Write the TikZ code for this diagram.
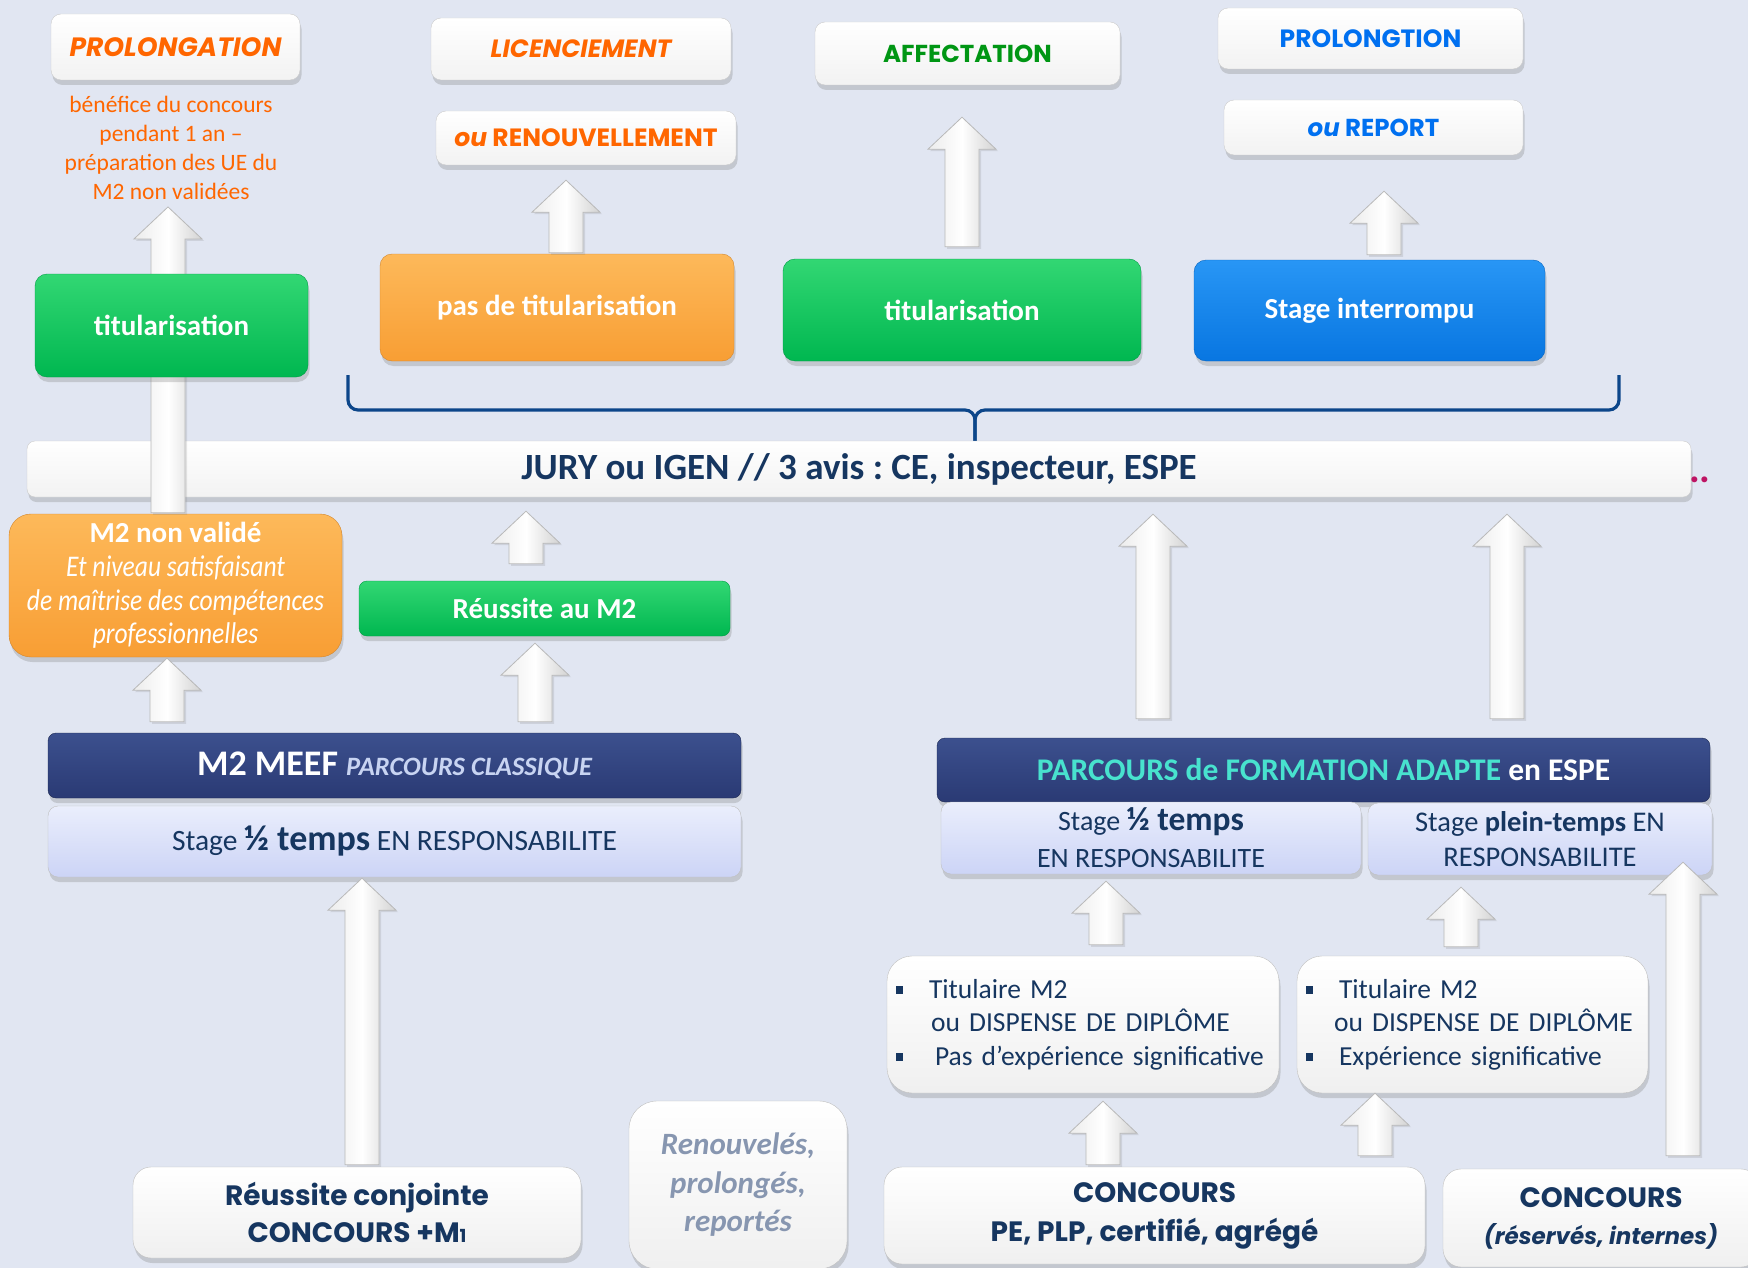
\documentclass[tikz,border=0pt]{standalone}
\usepackage{fontspec}
\setmainfont{Carlito}
\newfontfamily\geoFont{Poppins}
\newfontfamily\narrowFont[FakeStretch=0.85]{Carlito}
\usepackage{xcolor}
\usepackage{tikz}
\usetikzlibrary{calc, positioning, shadows}
\frenchspacing

\definecolor{bgCol}{RGB}{225,230,242}
\definecolor{navyTxt}{RGB}{22,54,96}
\definecolor{orangeTxt}{RGB}{255,102,0}
\definecolor{greenTxt}{RGB}{0,150,20}
\definecolor{blueTxt}{RGB}{0,112,240}
\definecolor{greenBox}{RGB}{0,183,80}
\definecolor{greenTop}{RGB}{50,215,115}
\definecolor{orangeBox}{RGB}{248,158,52}
\definecolor{orangeTop}{RGB}{253,185,90}
\definecolor{blueBox}{RGB}{8,118,225}
\definecolor{blueTop}{RGB}{40,150,245}
\definecolor{navyBox}{RGB}{42,58,116}
\definecolor{navyTop}{RGB}{60,80,142}
\definecolor{stageTop}{RGB}{234,238,252}
\definecolor{stageBot}{RGB}{204,212,246}
\definecolor{tealTxt}{RGB}{72,226,206}
\definecolor{paleTxt}{RGB}{200,212,242}
\definecolor{grayTxt}{RGB}{135,150,176}
\definecolor{braceCol}{RGB}{12,70,138}
\definecolor{dotCol}{RGB}{190,20,100}

\newcommand{\pxfont}[2]{\fontsize{#1}{#2}\selectfont}
\newcommand{\bulletSq}{\rule[4pt]{7pt}{8pt}}
% wide white arrow, drawn from the first point up to the second
\newcommand{\blockarrow}[2]{%
  \path[blockArrow] let \p1=#1, \p2=#2 in
    (\x1-17pt,\y1) -- (\x1-17pt,\y2-32pt) -- (\x1-34pt,\y2-32pt) -- (\x1,\y2)
    -- (\x1+34pt,\y2-32pt) -- (\x1+17pt,\y2-32pt) -- (\x1+17pt,\y1) -- cycle;}

\tikzset{
    shadowed/.style={drop shadow={shadow xshift=1.5pt, shadow yshift=-5pt, opacity=0.3}},
    outBox/.style={rectangle, rounded corners=10, draw=gray!40, top color=white, bottom color=gray!10, shadowed, align=center, inner sep=0pt},
    colorStep/.style={rectangle, rounded corners=12, text=white, font=\bfseries\pxfont{29}{35}, shadowed, align=center, inner sep=0pt},
    greenStep/.style={colorStep, draw=greenBox!85!black, top color=greenTop, bottom color=greenBox},
    orangeStep/.style={colorStep, draw=orangeBox!85!black, top color=orangeTop, bottom color=orangeBox},
    blueStep/.style={colorStep, draw=blueBox!85!black, top color=blueTop, bottom color=blueBox},
    navyBar/.style={rectangle, rounded corners=8, draw=navyBox!70!black, top color=navyTop, bottom color=navyBox, text=white, shadowed, align=center, inner sep=0pt},
    stageBar/.style={rectangle, rounded corners=10, draw=gray!50, top color=stageTop, bottom color=stageBot, text=navyTxt, shadowed, align=center, inner sep=0pt},
    entryBox/.style={rectangle, rounded corners=22, draw=gray!50, top color=white, bottom color=gray!12, text=navyTxt, shadowed, align=center, inner sep=0pt},
    blockArrow/.style={draw=gray!55, line width=0.8pt, left color=gray!15, right color=gray!35, middle color=white, drop shadow={shadow xshift=2pt, shadow yshift=-2pt, opacity=0.2}},
    braceLine/.style={draw=braceCol, line width=3.2pt, rounded corners=10}
}

\begin{document}
\begin{tikzpicture}[x=1pt, y=-1pt]
    \useasboundingbox (0,0) rectangle (1748,1268);
    \clip (0,0) rectangle (1748,1268);
    \fill[bgCol] (0,0) rectangle (1748,1268);

    % outcomes
    \node[outBox, minimum width=249, minimum height=66, text=orangeTxt, font=\geoFont\bfseries\itshape\pxfont{26.5}{30}] (prolongOut) at (175.5,47) {PROLONGATION};
    \node[outBox, minimum width=300, minimum height=62, text=orangeTxt, font=\geoFont\bfseries\itshape\pxfont{25}{30}] (licOut) at (581,49) {LICENCIEMENT};
    \node[outBox, minimum width=300, minimum height=54, text=orangeTxt, font=\geoFont\bfseries\pxfont{25}{30}] (renouvOut) at (586,138) {{\itshape ou} RENOUVELLEMENT};
    \node[outBox, minimum width=305, minimum height=63, text=greenTxt, font=\geoFont\bfseries\pxfont{24.5}{30}] (affectOut) at (967.5,53.5) {AFFECTATION};
    \node[outBox, minimum width=305, minimum height=61, text=blueTxt, font=\geoFont\bfseries\pxfont{25}{30}] (prolongBOut) at (1370.5,38.5) {PROLONGTION};
    \node[outBox, minimum width=299, minimum height=55, text=blueTxt, font=\geoFont\bfseries\pxfont{24.5}{30}] (reportOut) at (1373.5,127.5) {{\itshape ou} REPORT};

    \node[text=orangeTxt, font=\pxfont{23.5}{29}, align=center, inner sep=0pt] (benef) at (171,148)
        {bénéfice du concours\\pendant 1 an –\\préparation des UE du\\M2 non validées};

    % brace over the jury
    \draw[braceLine] (348,375) -- (348,410) -- (975,410) -- (975,445);
    \draw[braceLine] (1619,375) -- (1619,410) -- (975,410) -- (975,445);

    \node[outBox, rounded corners=8, minimum width=1664, minimum height=56, text=navyTxt, font=\bfseries\pxfont{37}{42}] (jury) at (859,469) {JURY ou IGEN // 3 avis : CE, inspecteur, ESPE};
    \node[text=dotCol, font=\bfseries\pxfont{40}{44}, anchor=base west, inner sep=0pt] (dots) at (1689,482) {..};

    % left column
    \node[orangeStep, rounded corners=22, minimum width=333, minimum height=143, font=\pxfont{30}{33.7}] (m2nv) at (175.5,585.5)
        {{\bfseries\pxfont{29}{33.7}M2 non validé}\\{\narrowFont\itshape Et niveau satisfaisant}\\{\narrowFont\itshape de maîtrise des compétences}\\{\narrowFont\itshape professionnelles}};
    \blockarrow{($(m2nv.north)+(-7.5,-1)$)}{($(benef.south)+(0,7)$)}
    \node[greenStep, minimum width=273, minimum height=103] (tit1) at (171.5,325.5) {titularisation};

    % results of the jury
    \node[orangeStep, minimum width=354, minimum height=107] (pasTit) at (557,307.5) {pas de titularisation};
    \node[greenStep, minimum width=358, minimum height=102] (tit2) at (962,310) {titularisation};
    \node[blueStep, minimum width=351, minimum height=101] (stageInt) at (1369.5,310.5) {Stage interrompu};
    \blockarrow{($(pasTit.north)+(9,-1)$)}{($(renouvOut.south)+(0,15)$)}
    \blockarrow{($(tit2.north)+(0,-12)$)}{($(affectOut.south)+(0,32)$)}
    \blockarrow{($(stageInt.north)+(14.5,-5)$)}{($(reportOut.south)+(0,36)$)}

    \node[greenStep, rounded corners=8, minimum width=371, minimum height=55] (reussM2) at (544.5,608.5) {Réussite au M2};
    \blockarrow{($(reussM2.north)+(-18.5,-17)$)}{($(jury.south)+(0,14)$)}

    % classic path
    \node[navyBar, minimum width=693, minimum height=65, font=\pxfont{36}{40}] (meef) at (394.5,765.5)
        {{\bfseries M2 MEEF} {\color{paleTxt}\bfseries\itshape\pxfont{26.5}{30}PARCOURS CLASSIQUE}};
    \node[stageBar, minimum width=693, minimum height=71, font=\pxfont{29.5}{35}] (stageL) at (394.5,841.5)
        {Stage {\bfseries\pxfont{36}{40}½ temps} EN RESPONSABILITE};
    \blockarrow{($(m2nv.south |- meef.north)+(-8.5,-11)$)}{($(m2nv.south)+(0,1)$)}
    \blockarrow{($(meef.north)+(140.5,-11)$)}{($(reussM2.south)+(0,7)$)}

    % adapted path
    \node[navyBar, minimum width=773, minimum height=64, font=\bfseries\pxfont{31.5}{36}] (parcours) at (1323.5,770)
        {{\color{tealTxt}PARCOURS de FORMATION ADAPTE} en ESPE};
    \node[stageBar, minimum width=420, minimum height=72, font=\pxfont{28}{37}] (stageR1) at (1151,838)
        {Stage {\bfseries\pxfont{33.5}{37}½ temps}\\EN RESPONSABILITE};
    \node[stageBar, minimum width=344, minimum height=72, font=\pxfont{28.5}{35}] (stageR2) at (1540,839)
        {Stage {\bfseries plein-temps} EN\\RESPONSABILITE};
    \blockarrow{($(parcours.north)+(-170.5,-19)$)}{($(jury.south)+(0,17)$)}
    \blockarrow{($(parcours.north)+(183.5,-19)$)}{($(jury.south)+(0,17)$)}

    \node[entryBox, rounded corners=25, minimum width=392, minimum height=137, inner xsep=9pt, text width=374, align=left, font=\pxfont{27.5}{33.5}] (titL) at (1083,1024.5)
        {\bulletSq\hspace*{26pt}Titulaire M2\\\hspace*{35pt}ou DISPENSE DE DIPLÔME\\\bulletSq\hspace*{32pt}Pas d’expérience significative};
    \node[entryBox, rounded corners=25, minimum width=351, minimum height=137, inner xsep=9pt, text width=333, align=left, font=\pxfont{27.5}{33.5}] (titR) at (1472.5,1024.5)
        {\bulletSq\hspace*{26pt}Titulaire M2\\\hspace*{28pt}ou DISPENSE DE DIPLÔME\\\bulletSq\hspace*{26pt}Expérience significative};
    \blockarrow{($(titL.north)+(23,-11)$)}{($(stageR1.south)+(0,7)$)}
    \blockarrow{($(titR.north)+(-11.5,-9)$)}{($(stageR2.south)+(0,12)$)}

    % entries
    \node[entryBox, rounded corners=18, minimum width=448, minimum height=91, font=\geoFont\bfseries\pxfont{28}{37}] (reussConj) at (357,1212.5)
        {Réussite conjointe\\CONCOURS +M{\pxfont{18}{20}1}};
    \node[entryBox, rounded corners=28, minimum width=218, minimum height=168, text=grayTxt, font=\bfseries\itshape\pxfont{31}{38.5}] (renouv) at (738,1185)
        {Renouvelés,\\prolongés,\\reportés};
    \node[entryBox, rounded corners=18, minimum width=541, minimum height=97, font=\geoFont\bfseries\pxfont{28}{39}] (concPE) at (1154.5,1215.5)
        {CONCOURS\\PE, PLP, certifié, agrégé};
    \node[entryBox, rounded corners=18, minimum width=316, minimum height=98, font=\geoFont\bfseries\pxfont{28}{37}] (concRes) at (1601,1218)
        {CONCOURS\\{\itshape\pxfont{23}{37}(réservés, internes)}};
    \blockarrow{($(reussConj.north)+(5,-2)$)}{($(stageL.south)+(0,1)$)}
    \blockarrow{($(concPE.north)+(-51.5,-2)$)}{($(titL.south)+(0,8)$)}
    \blockarrow{($(concPE.north)+(220.5,-11)$)}{($(titR.south)+(0,0)$)}
    \blockarrow{($(concRes.north)+(82,-13)$)}{($(stageR2.south)+(0,-13)$)}
\end{tikzpicture}
\end{document}
